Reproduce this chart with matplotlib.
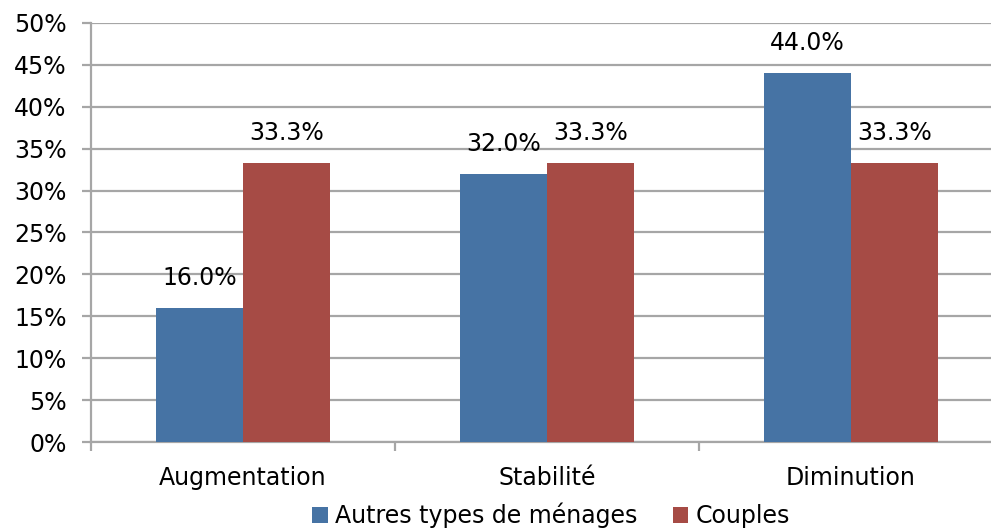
import matplotlib.pyplot as plt
import numpy as np

# categories and series
categories = ['Augmentation', 'Stabilité', 'Diminution']
autres = [16.0, 32.0, 44.0]
couples = [33.3, 33.3, 33.3]
series_names = ['Autres types de ménages', 'Couples']
yticks = np.arange(0, 51, 5)

blue = '#4673A4'
red = '#A64B45'
grid_col = '#A6A6A6'

plt.rcParams['font.family'] = 'DejaVu Sans'

fig = plt.figure(figsize=(9.91, 5.28), dpi=100)
ax = fig.add_axes([91/991, 86/528, 912/991, 419/528])

x = np.arange(len(categories))
w = 0.286
b1 = ax.bar(x - w/2, autres, w, color=blue, label=series_names[0], zorder=3)
b2 = ax.bar(x + w/2, couples, w, color=red, label=series_names[1], zorder=3)

# value labels above each bar
for bars, vals in ((b1, autres), (b2, couples)):
    for rect, v in zip(bars, vals):
        ax.annotate(f'{v:.1f}%', (rect.get_x() + rect.get_width()/2, v),
                    xytext=(0, 13), textcoords='offset points',
                    ha='center', va='bottom', fontsize=17)

ax.set_xlim(-0.5, 2.5)
ax.set_ylim(0, 50)
ax.set_yticks(yticks)
ax.set_yticklabels([f'{t}%' for t in yticks])
ax.yaxis.grid(True, color=grid_col, linewidth=1.6, zorder=0)
ax.tick_params(axis='y', length=6.5, width=1.6, color=grid_col, pad=11, labelsize=17)

ax.set_xticks(x)
ax.set_xticklabels(categories)
ax.set_xticks([-0.5, 0.5, 1.5, 2.5], minor=True)
ax.tick_params(axis='x', which='major', length=0, pad=17, labelsize=17)
ax.tick_params(axis='x', which='minor', length=6.5, width=1.6, color=grid_col)

for s in ('top', 'right'):
    ax.spines[s].set_visible(False)
for s in ('left', 'bottom'):
    ax.spines[s].set_color(grid_col)
    ax.spines[s].set_linewidth(1.6)

fig.legend(loc='center', bbox_to_anchor=(551/991, 12.5/528), ncol=2, frameon=False,
           fontsize=17, handlelength=0.65, handleheight=0.65, handletextpad=0.3,
           columnspacing=1.5, borderpad=0)

fig.savefig('out.png', dpi=100)
